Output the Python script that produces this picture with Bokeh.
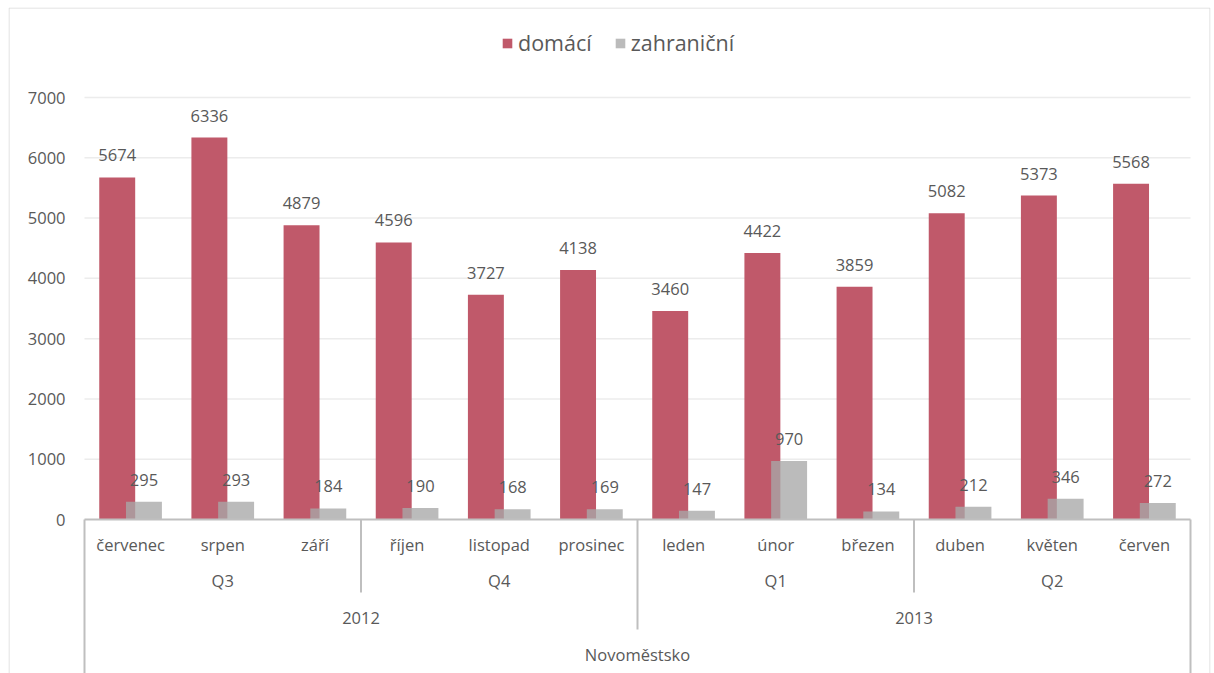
import numpy as np
from bokeh.plotting import figure
from bokeh.models import Range1d, Legend, LegendItem
from bokeh.core.properties import value
from bokeh.embed import file_html
from bokeh.resources import INLINE

# ---------------- data ----------------
months = ["červenec", "srpen", "září", "říjen", "listopad", "prosinec",
          "leden", "únor", "březen", "duben", "květen", "červen"]
quarters = ["Q3", "Q4", "Q1", "Q2"]
quarter_sizes = [3, 3, 3, 3]
years = ["2012", "2013"]
year_sizes = [6, 6]
region = ["Novoměstsko"]
series_names = ["domácí", "zahraniční"]
domaci = [5674, 6336, 4879, 4596, 3727, 4138, 3460, 4422, 3859, 5082, 5373, 5568]
zahranicni = [295, 293, 184, 190, 168, 169, 147, 970, 134, 212, 346, 272]
y_ticks = [0, 1000, 2000, 3000, 4000, 5000, 6000, 7000]

# ---------------- layout ----------------
W, H = 1211, 673
FL, FT = 8, 7          # frame left / top on the page
FW, FH = W - FL - 1, H - FT
PLOT_L = 84            # page x of plot area left
PLOT_R = 1190          # page x of plot area right
BASE_Y = 519           # page y of value 0
TOP_Y = 97             # page y of value 7000
n = len(months)
CW = (PLOT_R - PLOT_L) / n
S = (BASE_Y - TOP_Y) / y_ticks[-1]   # px per unit

x0 = -0.5 - (PLOT_L - FL) / CW
x1 = x0 + FW / CW
y1 = (BASE_Y - FT) / S
y0 = y1 - FH / S


def dx(px):
    return x0 + (px - FL) / CW


def dy(py):
    return (BASE_Y - py) / S


FONT = value("Open Sans")
TXT = "#595959"
LINE = "#bfbfbf"
RED = "#c0596a"
GRAY = "#a8a8a8"

p = figure(width=W, height=H, output_backend="svg", toolbar_location=None,
           x_range=Range1d(x0, x1), y_range=Range1d(y0, y1),
           x_axis_type=None, y_axis_type=None,
           min_border_left=FL, min_border_top=FT, min_border_right=1, min_border_bottom=0,
           background_fill_color="white", border_fill_color="white")
p.outline_line_color = None
p.xgrid.visible = False
p.ygrid.visible = False

# chart border (top, left, right; bottom lies below the window)
bx_l, bx_r, by_t = dx(FL + 0.5), dx(FL + FW - 0.5), dy(FT + 0.5)
p.segment(x0=[bx_l, bx_l, bx_r], x1=[bx_r, bx_l, bx_r],
          y0=[by_t, by_t, by_t], y1=[by_t, y0, y0],
          line_color="#d9d9d9", line_width=1)

idx = np.arange(n)
left_edge, right_edge = -0.5, n - 0.5

# gridlines
gy = y_ticks[1:]
p.segment(x0=[left_edge] * len(gy), x1=[right_edge] * len(gy), y0=gy, y1=gy,
          line_color="#ececec", line_width=1.5)

# bars
off, bw = 0.145, 0.39
r1 = p.vbar(x=idx - off, top=domaci, width=bw, bottom=0,
            fill_color=RED, line_color=None)
r2 = p.vbar(x=idx + off, top=zahranicni, width=bw, bottom=0,
            fill_color=GRAY, fill_alpha=0.78, line_color=None)

# data labels
p.text(x=idx - off, y=domaci, text=[str(v) for v in domaci], text_align="center",
       text_baseline="middle", y_offset=-22, text_font=FONT,
       text_font_size="16.5px", text_color=TXT)
p.text(x=idx + off, y=zahranicni, text=[str(v) for v in zahranicni], text_align="center",
       text_baseline="middle", y_offset=-22, text_font=FONT,
       text_font_size="16.5px", text_color=TXT)

# axis line
p.segment(x0=[left_edge], x1=[right_edge], y0=[0], y1=[0], line_color=LINE, line_width=2)

# y tick labels
p.text(x=[dx(65)] * len(y_ticks), y=y_ticks, text=[str(t) for t in y_ticks],
       text_align="right", text_baseline="middle", text_font=FONT,
       text_font_size="16.5px", text_color=TXT)

# category labels
row_month, row_q, row_y, row_r = dy(544), dy(580), dy(617), dy(654)
p.text(x=idx, y=[row_month] * n, text=months, text_align="center",
       text_baseline="middle", text_font=FONT, text_font_size="16.5px", text_color=TXT)

q_bounds = np.cumsum([0] + quarter_sizes) - 0.5
q_centers = (q_bounds[:-1] + q_bounds[1:]) / 2
p.text(x=q_centers, y=[row_q] * len(quarters), text=quarters, text_align="center",
       text_baseline="middle", text_font=FONT, text_font_size="16.5px", text_color=TXT)

y_bounds = np.cumsum([0] + year_sizes) - 0.5
y_centers = (y_bounds[:-1] + y_bounds[1:]) / 2
p.text(x=y_centers, y=[row_y] * len(years), text=years, text_align="center",
       text_baseline="middle", text_font=FONT, text_font_size="16.5px", text_color=TXT)

p.text(x=[(left_edge + right_edge) / 2], y=[row_r], text=region, text_align="center",
       text_baseline="middle", text_font=FONT, text_font_size="16.5px", text_color=TXT)

# separators
year_inner = list(y_bounds[1:-1])
q_inner = [b for b in q_bounds[1:-1] if b not in year_inner]
sx = [left_edge, right_edge] + year_inner + q_inner
sy_end = [y0, y0] + [dy(629)] * len(year_inner) + [dy(592)] * len(q_inner)
p.segment(x0=sx, x1=sx, y0=[0] * len(sx), y1=sy_end, line_color=LINE, line_width=2)

# legend
legend = Legend(items=[LegendItem(label=series_names[0], renderers=[r1]),
                       LegendItem(label=series_names[1], renderers=[r2])],
                orientation="horizontal", location=(493, 616),
                glyph_width=12, glyph_height=12, label_standoff=5, spacing=22,
                padding=0, margin=0, border_line_alpha=0, background_fill_alpha=0,
                label_text_font="Open Sans", label_text_font_size="21.5px",
                label_text_color=TXT)
p.add_layout(legend)

open("out.html", "w").write(file_html(p, INLINE))
